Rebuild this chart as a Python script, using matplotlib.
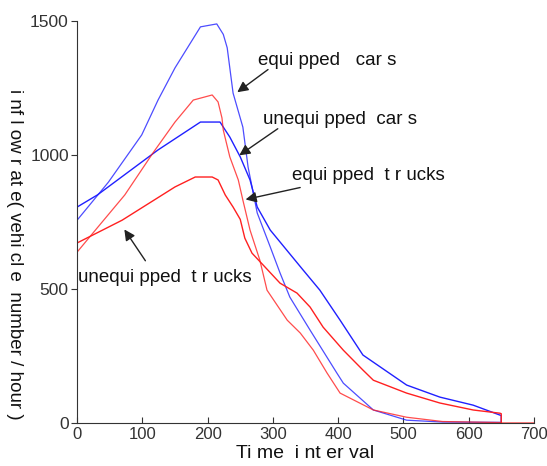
import matplotlib
matplotlib.use('Agg')
import numpy as np
from matplotlib import pyplot as plt

plt.rcParams['font.family'] = ['Liberation Sans', 'DejaVu Sans']

# equipped cars (upper blue)
eq_car_x = [0, 48, 99, 124, 150, 189, 214, 224, 230, 239, 254, 262, 276, 296, 311, 326, 357, 398, 408, 454, 505, 560, 650, 650]
eq_car_y = [757, 899, 1075, 1205, 1325, 1478, 1489, 1450, 1400, 1231, 1104, 955, 784, 657, 560, 470, 347, 187, 149, 49, 11, 4, 3, 0]

# unequipped cars (lower blue)
uneq_car_x = [0, 31, 124, 189, 219, 227, 234, 250, 265, 276, 296, 321, 345, 372, 403, 438, 505, 556, 607, 648, 650, 650]
uneq_car_y = [806, 851, 1019, 1123, 1123, 1093, 1067, 993, 907, 806, 720, 646, 575, 496, 384, 254, 142, 97, 67, 30, 28, 0]

# equipped trucks (upper red)
eq_truck_x = [0, 28, 73, 116, 150, 178, 207, 216, 222, 224, 234, 247, 254, 265, 280, 291, 322, 342, 362, 383, 403, 454, 505, 560, 650]
eq_truck_y = [638, 720, 851, 1007, 1123, 1205, 1224, 1198, 1138, 1093, 993, 907, 832, 720, 608, 496, 384, 336, 272, 187, 112, 49, 22, 6, 2]

# unequipped trucks (lower red)
uneq_truck_x = [0, 69, 150, 181, 207, 216, 227, 239, 250, 257, 268, 285, 311, 337, 357, 377, 408, 438, 454, 505, 556, 607, 648, 650, 650, 700]
uneq_truck_y = [672, 757, 881, 918, 918, 907, 851, 806, 760, 690, 634, 590, 522, 485, 433, 358, 272, 198, 160, 112, 75, 49, 37, 35, 0, 0]

labels = ['equi pped   car s', 'unequi pped  car s', 'equi pped  t r ucks', 'unequi pped  t r ucks']
label_pos = [(277, 1354), (285, 1131), (329, 925), (2, 545)]
arrow_tail = [(296, 1325), (311, 1104), (346, 881), (107, 597)]
arrow_head = [(242, 1228), (245, 993), (254, 832), (70, 731)]

fig = plt.figure(figsize=(5.47, 4.66), dpi=100)
ax = fig.add_axes([0.141, 0.092, 0.835, 0.863])

ax.plot(eq_car_x, eq_car_y, color='#2020ff', lw=0.9, alpha=0.8)
ax.plot(uneq_car_x, uneq_car_y, color='#2020ff', lw=1.0)
ax.plot(eq_truck_x, eq_truck_y, color='#ff2020', lw=0.9, alpha=0.8)
ax.plot(uneq_truck_x, uneq_truck_y, color='#ff2020', lw=1.0)

for lab, pos, tail, head in zip(labels, label_pos, arrow_tail, arrow_head):
    ax.text(pos[0], pos[1], lab, fontsize=13.5, va='center', ha='left', color='#111111')
    ax.annotate('', xy=head, xytext=tail,
                arrowprops=dict(arrowstyle='-|>', color='#222222', lw=1.0, mutation_scale=16))

ax.set_xlim(0, 700)
ax.set_ylim(0, 1500)
ax.set_xticks(np.arange(0, 701, 100))
ax.set_yticks([0, 500, 1000, 1500])
ax.spines['top'].set_visible(False)
ax.spines['right'].set_visible(False)
for s in ['left', 'bottom']:
    ax.spines[s].set_color('#333333')
ax.tick_params(axis='x', direction='in', length=4, labelsize=12, colors='#333333', pad=3)
ax.tick_params(axis='y', direction='out', length=4, labelsize=12.5, colors='#333333', pad=2)

ax.set_xlabel('Ti me  i nt er val', fontsize=14, color='#111111', labelpad=2)
ax.set_ylabel('i nf l ow r at e( vehi cl e  number / hour )', fontsize=13.5, color='#111111',
              rotation=270)
ax.yaxis.set_label_coords(-0.155, 0.42)

fig.savefig('out.png', dpi=100)
